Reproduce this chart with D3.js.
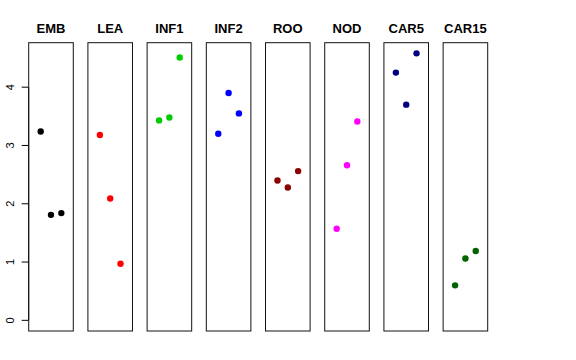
<!DOCTYPE html>
<html><head><meta charset="utf-8">
<script src="https://cdn.jsdelivr.net/npm/d3@7"></script>
<style>body{margin:0;background:#fff}svg{display:block}</style>
</head><body>
<script>
const categories = ["EMB","LEA","INF1","INF2","ROO","NOD","CAR5","CAR15"];
const colors = ["#000000","#FF0000","#00CD00","#0000FF","#8B0000","#FF00FF","#000080","#006400"];
const values = [
  [3.24,1.81,1.84],
  [3.18,2.09,0.97],
  [3.43,3.48,4.51],
  [3.20,3.90,3.55],
  [2.40,2.28,2.56],
  [1.57,2.66,3.41],
  [4.25,3.70,4.58],
  [0.60,1.06,1.19]
];
const yTicks = [0,1,2,3,4];

const W=576,H=360;
const svg=d3.select("body").append("svg").attr("width",W).attr("height",H);
const panelX=d3.scaleBand().domain(categories).range([28.7,487.7]).paddingInner(0.247).paddingOuter(0);
const y=d3.scaleLinear().domain([-0.183,4.763]).range([331,42.7]);

const yAxis=svg.append("g").attr("transform","translate(28.7,0)")
  .call(d3.axisLeft(y).tickValues(yTicks).tickSize(7).tickPadding(5).tickFormat(d3.format("d")));
yAxis.select(".domain").attr("d",`M0,${y(0)}V${y(4)}`).attr("stroke","#000");
yAxis.selectAll(".tick line").attr("stroke","#000");
yAxis.selectAll(".tick text")
  .attr("transform","rotate(-90)")
  .attr("x",null).attr("dy",null)
  .attr("text-anchor","middle")
  .each(function(d){d3.select(this).attr("x",-y(d)).attr("y",-14.5)})
  .attr("font-family","Liberation Sans, Arial, sans-serif").attr("font-size",11).attr("fill","#000");
yAxis.selectAll(".tick").attr("transform",null);
yAxis.selectAll(".tick line").each(function(d){d3.select(this).attr("y1",y(d)).attr("y2",y(d))});

categories.forEach((c,i)=>{
  const x0=panelX(c), bw=panelX.bandwidth();
  const g=svg.append("g");
  const xs=d3.scaleLinear().domain([-0.16,4.16]).range([x0,x0+bw]);
  g.append("rect").attr("x",x0).attr("y",42.7).attr("width",bw).attr("height",331-42.7)
    .attr("fill","none").attr("stroke","#111").attr("stroke-width",1);
  g.append("text").attr("x",x0+bw/2).attr("y",33).attr("text-anchor","middle")
    .attr("font-family","Liberation Sans, Arial, sans-serif").attr("font-weight","bold").attr("font-size",13)
    .text(c);
  g.selectAll("circle").data(values[i]).join("circle")
    .attr("cx",(d,j)=>xs(j+1)).attr("cy",d=>y(d)).attr("r",3.2).attr("fill",colors[i]);
});
</script>
</body></html>
